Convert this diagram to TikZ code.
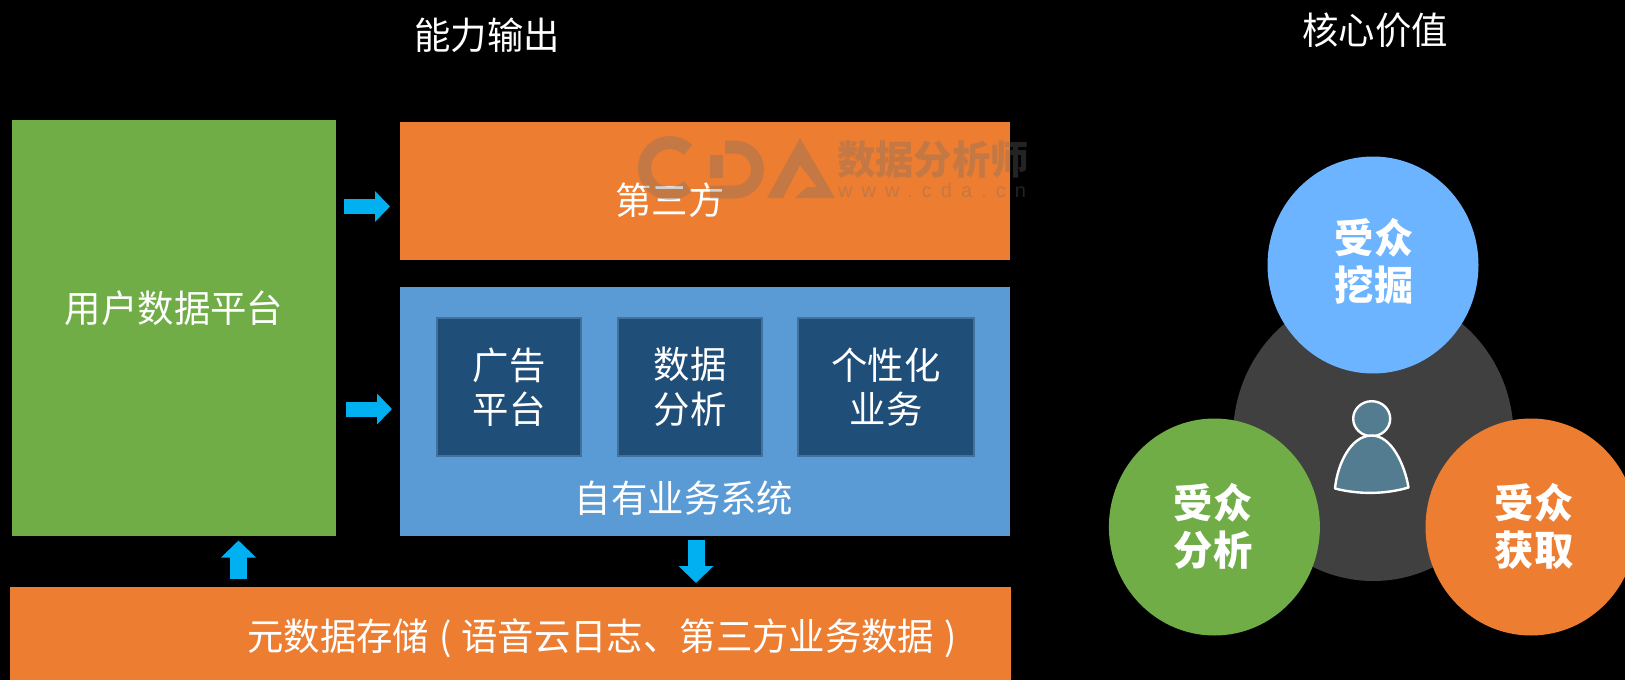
\documentclass[tikz,border=0pt]{standalone}
\usepackage{fontspec}
\setmainfont[FakeStretch=0.97]{Noto Sans CJK SC}
\newfontfamily\wmfont[LetterSpace=45]{Liberation Sans}
\usetikzlibrary{arrows.meta,shapes.geometric}
\definecolor{cgreen}{RGB}{112,173,71}
\definecolor{corange}{RGB}{237,125,49}
\definecolor{cblue}{RGB}{91,155,213}
\definecolor{cnavy}{RGB}{31,78,121}
\definecolor{cnavyb}{RGB}{65,113,156}
\definecolor{cgrey}{RGB}{64,64,64}
\definecolor{csky}{RGB}{108,180,255}
\definecolor{carrow}{RGB}{0,176,240}
\definecolor{cperson}{RGB}{84,124,144}
\definecolor{cwm}{RGB}{110,110,110}
\tikzset{
  x=1pt,y=-1pt,
  panel/.style={inner sep=0pt,outer sep=0pt,text=white,align=center,font=\fontsize{37.5}{44.5}\selectfont},
  innerbox/.style={panel,fill=cnavy,draw=cnavyb,line width=2pt},
  blob/.style={ellipse,inner sep=0pt,outer sep=0pt,minimum width=211pt,minimum height=217pt},
  blobtext/.style={text=white,inner sep=0pt,align=center,font=\fontsize{40.5}{47}\selectfont\bfseries},
  caption/.style={text=white,inner sep=0pt,font=\fontsize{37.5}{44}\selectfont},
  harrow/.style={draw=carrow,line width=15pt,-{Triangle[length=15pt,width=30pt,fill=carrow]}},
  varrow/.style={draw=carrow,line width=17pt,-{Triangle[length=17pt,width=34pt,fill=carrow]}},
  wmshape/.style={fill=cwm,fill opacity=0.32},
  wmstroke/.style={draw=cwm,draw opacity=0.32,line width=13pt}
}
\begin{document}
\begin{tikzpicture}
\useasboundingbox (0,0) rectangle (1625,679.6);
\clip (0,0) rectangle (1625,690);
\fill[black] (0,0) rectangle (1625,690);
% panels
\node[panel,fill=cgreen,minimum width=324pt,minimum height=415.5pt] (platform) at (174,327.75) {};
\node[caption] (platformlabel) at (174,308) {用户数据平台};
\node[panel,fill=corange,minimum width=610pt,minimum height=138pt] (third) at (705,191) {};
\node[caption] (thirdlabel) at (670,200) {第三方};
\node[panel,fill=cblue,minimum width=610pt,minimum height=248.5pt] (own) at (705,411.25) {};
\node[caption] (ownlabel) at (684,498) {自有业务系统};
\node[innerbox,minimum width=144.5pt,minimum height=138pt] (ad) at (509.2,387) {\raisebox{-2pt}{广告}\\\raisebox{-2pt}{平台}};
\node[innerbox,minimum width=144.5pt,minimum height=138pt] (analysis) at (690,387) {\raisebox{-2pt}{数据}\\\raisebox{-2pt}{分析}};
\node[innerbox,minimum width=176pt,minimum height=138pt] (personal) at (886,387) {\raisebox{-2pt}{个性化}\\\raisebox{-2pt}{业务}};
\node[panel,fill=corange,minimum width=1001pt,minimum height=103pt] (store) at (510.5,638.5) {};
\node[caption] (storelabel) at (602,638) {元数据存储\hspace{10pt}(\hspace{10pt}语音云日志、第三方业务数据\hspace{10pt})};
% headers
\node[caption] (headleft) at (487,35) {能力输出};
\node[caption] (headright) at (1375,30) {核心价值};
% arrows
\coordinate (r1) at (360,206.5);
\coordinate (r2) at (360,409);
\coordinate (u1) at (238.5,560);
\coordinate (d1) at (696,560);
\draw[harrow,shorten <=8pt,shorten >=10pt] (platform.east|-r1) -- (third.west|-r1);
\draw[harrow,shorten <=10pt,shorten >=8pt] (platform.east|-r2) -- (own.west|-r2);
\draw[varrow,shorten <=8pt,shorten >=5pt] (store.north-|u1) -- (platform.south-|u1);
\draw[varrow,shorten <=4pt,shorten >=4pt] (own.south-|d1) -- (store.north-|d1);
% circles
\node[ellipse,fill=cgrey,minimum width=280.5pt,minimum height=290pt,inner sep=0pt] (hub) at (1373.3,436) {};
\node[blob,fill=csky] (mine) at (1373,265) {};
\node[blobtext] (minelabel) at (1374,261.5) {受众\\挖掘};
\node[blob,fill=cgreen] (study) at (1214.4,527) {};
\node[blobtext] (studylabel) at (1213,526.5) {受众\\分析};
\node[blob,fill=corange] (gain) at (1531,527) {};
\node[blobtext] (gainlabel) at (1534,526) {受众\\获取};
% person
\draw[white,line width=2.4pt,fill=cperson] (1371.7,418.7) ellipse [x radius=18.5,y radius=17.5];
\draw[white,line width=2.4pt,fill=cperson,line join=round] (1371.7,435.5)
  .. controls (1392,435.5) and (1405,466) .. (1408.5,487.5)
  .. controls (1385,494.5) and (1358,494.5) .. (1335,488.5)
  .. controls (1337,466) and (1350,435.5) .. (1371.7,435.5) -- cycle;
% watermark
\draw[wmstroke] (688,150) arc (-45:-315:25.5);
\draw[wmstroke] (725,147) -- (735,147) arc (-90:90:22.5) -- (710,192);
\draw[wmstroke] (716.5,155) -- (716.5,178);
\fill[wmshape] (800,138) -- (835,198) -- (795,198) -- (807,187) -- (817,187) -- (800,165) -- (783,198) -- (767,198) -- cycle;
\node[text=cwm,text opacity=0.32,inner sep=0pt,anchor=west,font=\fontsize{39.5}{39}\selectfont\bfseries] (wmcn) at (837,159.5) {数据分析师};
\node[text=cwm,text opacity=0.32,inner sep=0pt,anchor=west,font=\fontsize{20}{20}\wmfont] (wmen) at (838,190.5) {www.cda.cn};
\end{tikzpicture}
\end{document}
